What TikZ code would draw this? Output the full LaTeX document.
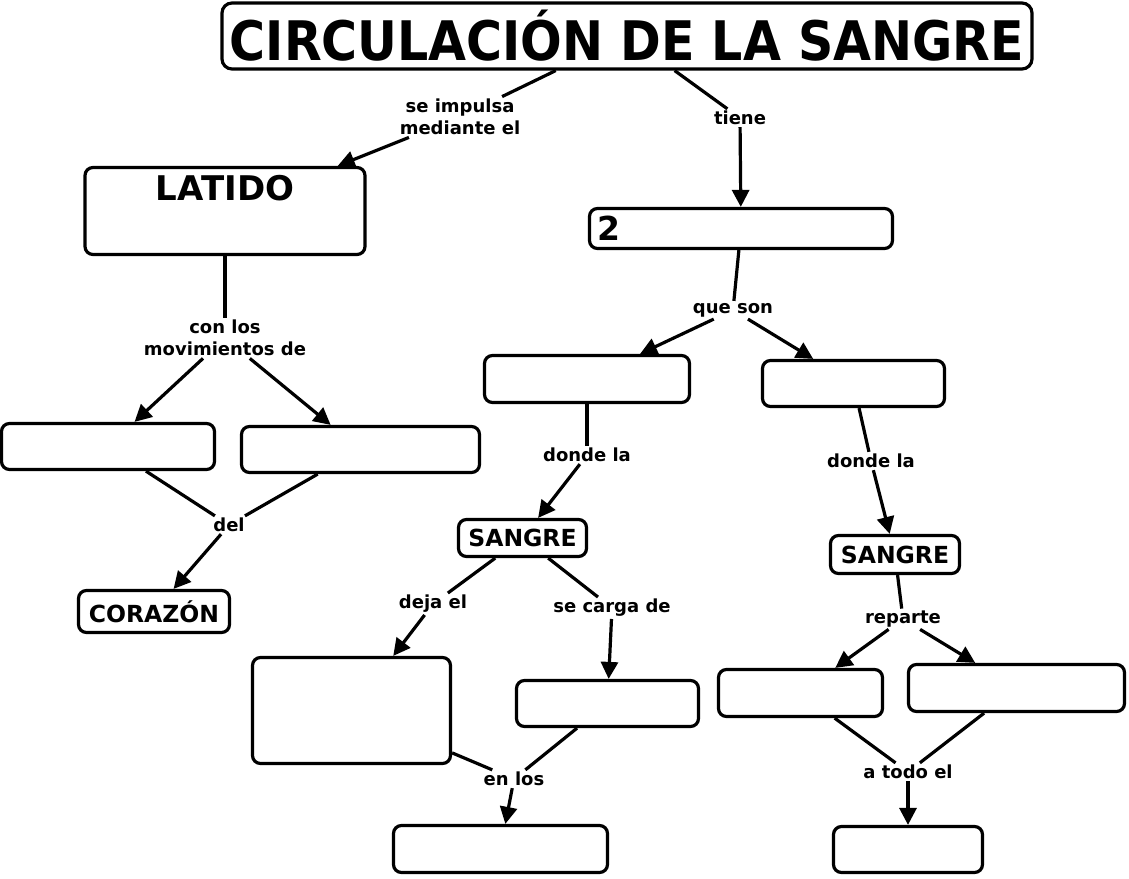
\documentclass[tikz,border=0pt]{standalone}
\usepackage{fontspec}
\setmainfont{DejaVu Sans}
\newfontfamily\titlefont{DejaVu Sans Condensed}
\usetikzlibrary{arrows.meta}
\begin{document}
\begin{tikzpicture}[x=1pt,y=-1pt,
  box/.style={draw, line width=3.2pt, rounded corners=8pt, fill=white, inner sep=0pt,
    font=\fontsize{23.5}{26}\selectfont\bfseries},
  lbl/.style={font=\fontsize{18}{22.5}\selectfont\bfseries, align=center, inner sep=2pt},
  con/.style={line width=3.2pt},
  arr/.style={con, -{Triangle[length=17pt,width=17pt]}},
]
\useasboundingbox[fill=white] (0,0) rectangle (1129,878);

% boxes
\node[box, rounded corners=10pt, minimum width=810pt, minimum height=66pt,
  font=\titlefont\bfseries\fontsize{54.5}{60}\selectfont] (title) at (627,36) {CIRCULACIÓN DE LA SANGRE};
\node[box, minimum width=280pt, minimum height=87pt,
  label={[anchor=north, yshift=-9pt, inner sep=0pt, font=\fontsize{34}{36}\selectfont\bfseries]north:LATIDO}] (latido) at (225,211) {};
\node[box, minimum width=303pt, minimum height=40pt,
  label={[anchor=west, xshift=9pt, inner sep=0pt, font=\fontsize{33}{36}\selectfont\bfseries]west:2}] (two) at (741,228.5) {};
\node[box, minimum width=205pt, minimum height=47pt] (midL) at (587,379) {};
\node[box, minimum width=182pt, minimum height=46pt] (midR) at (853.5,383.5) {};
\node[box, minimum width=213pt, minimum height=46pt] (L1) at (108,446.5) {};
\node[box, minimum width=238pt, minimum height=46pt] (L2) at (360.5,449.5) {};
\node[box, minimum width=151pt, minimum height=42pt] (cor) at (154,611.5) {CORAZÓN};
\node[box, minimum width=128pt, minimum height=37pt] (sangL) at (522.5,538) {SANGRE};
\node[box, minimum width=129pt, minimum height=38pt] (sangR) at (895,554.5) {SANGRE};
\node[box, minimum width=198pt, minimum height=106pt] (deja) at (351.5,710.5) {};
\node[box, minimum width=182pt, minimum height=46pt] (carga) at (607.5,703.5) {};
\node[box, minimum width=214pt, minimum height=47pt] (enlos) at (500.5,849) {};
\node[box, minimum width=164pt, minimum height=47pt] (rL) at (800.5,693) {};
\node[box, minimum width=216pt, minimum height=47pt] (rR) at (1016.5,688) {};
\node[box, minimum width=149pt, minimum height=46pt] (bot) at (908,849.5) {};

% labels
\node[lbl] (l1) at (460,117) {se impulsa\\mediante el};
\node[lbl] (l2) at (740,118) {tiene};
\node[lbl] (l3) at (225,338) {con los\\movimientos de};
\node[lbl] (l4) at (229,525) {del};
\node[lbl] (l5) at (733,310) {que son};
\node[lbl] (l6) at (587,455) {donde la};
\node[lbl] (l7) at (871,461) {donde la};
\node[lbl] (l8) at (433,604) {deja el};
\node[lbl] (l9) at (612,608) {se carga de};
\node[lbl] (l10) at (514,779) {en los};
\node[lbl] (l11) at (903,619) {reparte};
\node[lbl] (l12) at (908,772) {a todo el};

% connectors
\draw[con] (title) -- (l1);
\draw[arr] (l1) -- (latido);
\draw[con] (title) -- (l2);
\draw[arr] (l2) -- (two);
\draw[con] (latido) -- (l3);
\draw[arr] (l3) -- (L1);
\draw[arr] (l3) -- (L2);
\draw[con] (L1) -- (l4);
\draw[con] (L2) -- (l4);
\draw[arr] (l4) -- (cor);
\draw[con] (two) -- (l5);
\draw[arr] (l5) -- (midL);
\draw[arr] (l5) -- (midR);
\draw[con] (midL) -- (l6);
\draw[arr] (l6) -- (sangL);
\draw[con] (midR) -- (l7);
\draw[arr] (l7) -- (sangR);
\draw[con] (sangL) -- (l8);
\draw[arr] (l8) -- (deja);
\draw[con] (sangL) -- (l9);
\draw[arr] (l9) -- (carga);
\draw[con] (deja) -- (l10);
\draw[con] (carga) -- (l10);
\draw[arr] (l10) -- (enlos);
\draw[con] (sangR) -- (l11);
\draw[arr] (l11) -- (rL);
\draw[arr] (l11) -- (rR);
\draw[con] (rL) -- (l12);
\draw[con] (rR) -- (l12);
\draw[arr] (l12) -- (bot);
\end{tikzpicture}
\end{document}
